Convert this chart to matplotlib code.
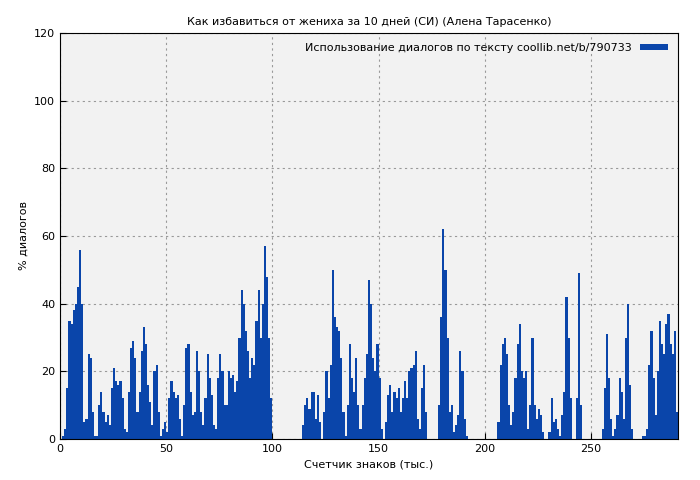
import matplotlib.pyplot as plt
import numpy as np

# % диалогов на каждую тысячу знаков
values = [0, 1, 3, 15, 35, 34, 38, 40, 45, 56, 40, 5, 6, 25, 24, 8, 1, 1, 10, 14,
          8, 5, 7, 4, 15, 21, 17, 16, 17, 12, 3, 2, 14, 27, 29, 24, 8, 14, 26, 33,
          28, 16, 11, 4, 20, 22, 8, 1, 3, 5, 2, 12, 17, 14, 12, 13, 6, 1, 10, 27,
          28, 14, 7, 8, 26, 20, 8, 4, 12, 25, 18, 13, 4, 3, 18, 25, 20, 10, 10, 20,
          18, 19, 14, 17, 30, 44, 40, 32, 26, 18, 24, 22, 35, 44, 30, 40, 57, 48, 30, 12,
          0, 0, 0, 0, 0, 0, 0, 0, 0, 0, 0, 0, 0, 0, 4, 10, 12, 9, 14, 14,
          6, 13, 5, 0, 8, 20, 12, 22, 50, 36, 33, 32, 24, 8, 1, 10, 28, 18, 14, 24,
          10, 3, 10, 18, 25, 47, 40, 24, 20, 28, 18, 3, 0, 5, 13, 16, 8, 14, 12, 15,
          8, 12, 17, 12, 20, 21, 22, 26, 6, 3, 15, 22, 8, 0, 0, 0, 0, 0, 10, 36,
          62, 50, 30, 8, 10, 2, 4, 7, 26, 20, 6, 1, 0, 0, 0, 0, 0, 0, 0, 0,
          0, 0, 0, 0, 0, 0, 5, 22, 28, 30, 25, 10, 4, 8, 18, 28, 34, 20, 18, 20,
          3, 10, 30, 10, 6, 9, 7, 2, 0, 0, 2, 12, 5, 6, 3, 1, 7, 14, 42, 30,
          12, 0, 0, 12, 49, 10, 0, 0, 0, 0, 0, 0, 0, 0, 0, 3, 15, 31, 18, 6,
          1, 3, 7, 18, 14, 6, 30, 40, 16, 3, 0, 0, 0, 0, 1, 1, 3, 22, 32, 18,
          7, 20, 35, 28, 25, 34, 37, 28, 25, 32, 8]
x = np.arange(len(values))

plt.rcParams['font.family'] = ['DejaVu Sans']
fig = plt.figure(figsize=(7, 4.8), dpi=100)
ax = fig.add_axes([60/700, 41/480, 618/700, 406/480])
ax.set_facecolor('#f2f2f2')
ax.bar(x, values, width=1.0, align='edge', color='#0a45aa', linewidth=0,
       label='Использование диалогов по тексту coollib.net/b/790733')
ax.set_xlim(0, 291)
ax.set_ylim(0, 120)
ax.set_xticks(range(0, 300, 50))
ax.set_yticks(range(0, 121, 20))
ax.grid(True, color='#999999', linestyle=(0, (2, 3)), linewidth=0.8)
ax.set_axisbelow(True)
ax.tick_params(labelsize=8, direction='in', length=4)
ax.set_title('Как избавиться от жениха за 10 дней (СИ) (Алена Тарасенко)', fontsize=8)
ax.set_xlabel('Счетчик знаков (тыс.)', fontsize=8)
ax.set_ylabel('% диалогов', fontsize=8)
ax.legend(loc='upper right', fontsize=8, frameon=False, markerfirst=False,
          handlelength=2.5, handleheight=0.4)
fig.savefig('out.png')
